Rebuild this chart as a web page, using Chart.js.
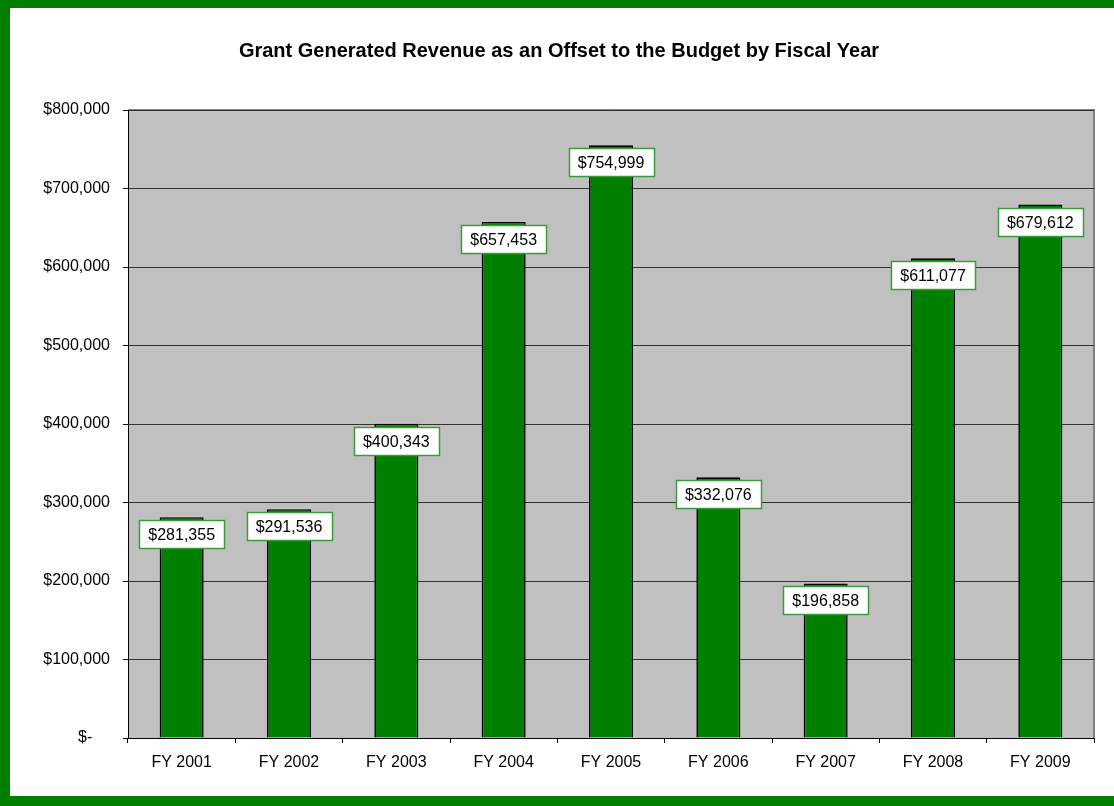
<!DOCTYPE html>
<html>
<head>
<meta charset="utf-8">
<script src="https://cdn.jsdelivr.net/npm/chart.js@4.4.0/dist/chart.umd.min.js"></script>
<style>
html,body{margin:0;padding:0;background:#fff;}
#wrap{position:absolute;left:0;top:0;width:1114px;height:806px;}
</style>
</head>
<body>
<div id="wrap"><canvas id="c" width="1114" height="806"></canvas></div>
<script>
const titleText = 'Grant Generated Revenue as an Offset to the Budget by Fiscal Year';
const categories = ['FY 2001','FY 2002','FY 2003','FY 2004','FY 2005','FY 2006','FY 2007','FY 2008','FY 2009'];
const revenue = [281355, 291536, 400343, 657453, 754999, 332076, 196858, 611077, 679612];
const yTickValues = [0, 100000, 200000, 300000, 400000, 500000, 600000, 700000, 800000];

const FONT = '"Liberation Sans", Arial, Helvetica, sans-serif';

function fmtMoney(v){
  if (v === 0) return '$-    ';
  return '$' + v.toLocaleString('en-US');
}

const framePlugin = {
  id: 'frame',
  beforeDraw(chart){
    const ctx = chart.ctx, W = chart.width, H = chart.height;
    const a = chart.chartArea;
    ctx.save();
    ctx.fillStyle = '#ffffff';
    ctx.fillRect(0,0,W,H);
    ctx.fillStyle = '#008000';
    ctx.fillRect(0,0,W,8);
    ctx.fillRect(0,0,10,H);
    ctx.fillRect(0,H-10,W,10);
    ctx.fillStyle = '#C0C0C0';
    ctx.fillRect(a.left, a.top, a.right-a.left, a.bottom-a.top);
    ctx.strokeStyle = '#808080';
    ctx.lineWidth = 2;
    ctx.beginPath();
    ctx.moveTo(a.left, a.top);
    ctx.lineTo(a.right, a.top);
    ctx.lineTo(a.right, a.bottom);
    ctx.stroke();
    // title
    ctx.fillStyle = '#000000';
    ctx.font = 'bold 20px ' + FONT;
    ctx.textAlign = 'center';
    ctx.textBaseline = 'middle';
    ctx.fillText(titleText, 559, 51);
    ctx.restore();
  }
};

const labelPlugin = {
  id: 'valLabels',
  afterDatasetsDraw(chart){
    const ctx = chart.ctx;
    const meta = chart.getDatasetMeta(0);
    ctx.save();
    ctx.font = '16px ' + FONT;
    ctx.textAlign = 'center';
    ctx.textBaseline = 'middle';
    meta.data.forEach((bar, i) => {
      const txt = fmtMoney(chart.data.datasets[0].data[i]);
      const tw = ctx.measureText(txt).width;
      const w = Math.round(tw + 18), h = 28;
      const x = Math.round(bar.x - w/2) + 0.5;
      const y = Math.round(bar.y + 3) + 0.5;
      ctx.fillStyle = '#ffffff';
      ctx.fillRect(x, y, w, h);
      ctx.strokeStyle = '#3C9A3C';
      ctx.lineWidth = 1.5;
      ctx.strokeRect(x, y, w, h);
      ctx.fillStyle = '#000000';
      ctx.fillText(txt, bar.x, y + h/2 + 1);
    });
    ctx.restore();
  }
};

new Chart(document.getElementById('c'), {
  type: 'bar',
  data: {
    labels: categories,
    datasets: [{
      data: revenue,
      backgroundColor: '#008000',
      borderColor: '#000000',
      borderWidth: 1.6,
      borderSkipped: 'bottom',
      categoryPercentage: 1.0,
      barPercentage: 0.41
    }]
  },
  options: {
    responsive: false,
    animation: false,
    devicePixelRatio: 1,
    layout: { padding: { left: 10, right: 20, top: 110, bottom: 10 } },
    plugins: {
      legend: { display: false },
      tooltip: { enabled: false },
      title: { display: false }
    },
    scales: {
      x: {
        offset: true,
        afterFit(scale){ scale.height = 58; },
        grid: { display: true, drawOnChartArea: false, offset: true, color: '#000000', tickLength: 5, tickColor: '#000000' },
        border: { display: true, color: '#000000', width: 1 },
        ticks: { color: '#000000', font: { family: FONT, size: 16 }, padding: 10, maxRotation: 0, autoSkip: false }
      },
      y: {
        min: 0,
        max: 800000,
        afterFit(scale){ scale.width = 118; },
        afterBuildTicks(scale){ scale.ticks = yTickValues.map(v => ({ value: v })); },
        grid: { color: '#333333', lineWidth: 1, tickLength: 5, tickColor: '#000000' },
        border: { display: true, color: '#000000', width: 1 },
        ticks: { color: '#000000', font: { family: FONT, size: 16 }, padding: 13, callback: v => fmtMoney(v) }
      }
    }
  },
  plugins: [framePlugin, labelPlugin]
});
</script>
</body>
</html>
